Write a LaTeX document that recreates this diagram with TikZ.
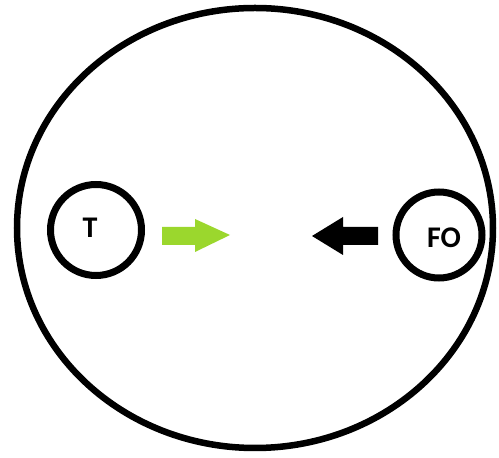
\documentclass[tikz,border=0pt]{standalone}
\usepackage{fontspec}
\setmainfont{Carlito}
\definecolor{arrowgreen}{RGB}{155,215,45}
\begin{document}
\begin{tikzpicture}[x=1pt,y=1pt,
  ring/.style={draw=black,line width=7pt,circle,inner sep=0pt},
  lbl/.style={font=\bfseries\fontsize{30}{30}\selectfont}]
\useasboundingbox (0,0) rectangle (499,458);
\draw[line width=6.5pt] (255,230) ellipse [x radius=238, y radius=220];
\node[ring,minimum size=91pt] (T) at (96,228) {};
\node[lbl] (Tl) at (90,230) {T};
\node[ring,minimum size=86pt] (FO) at (439,223) {};
\node[lbl] (FOl) at (444,220) {FO};
\fill[arrowgreen] (162,231) -- (195,231) -- (195,239) -- (230,223) -- (195,206) -- (195,213) -- (162,213) -- cycle;
\fill[black] (378,231) -- (343,231) -- (343,241) -- (312,222) -- (343,203) -- (343,213) -- (378,213) -- cycle;
\end{tikzpicture}
\end{document}
